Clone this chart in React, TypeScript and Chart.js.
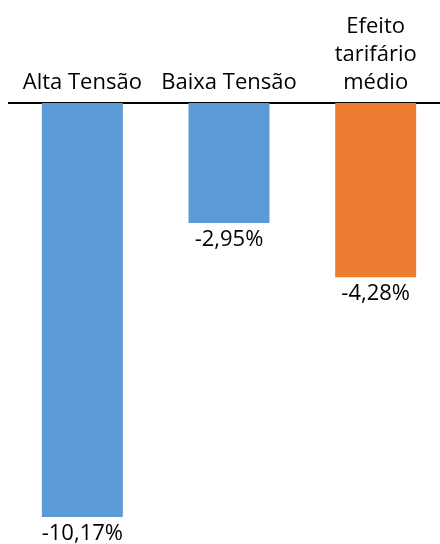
import React, { useEffect, useRef } from "react";
import { Chart, registerables } from "chart.js";

Chart.register(...registerables);

const categories: (string | string[])[] = ["Alta Tensão", "Baixa Tensão", ["Efeito", "tarifário", "médio"]];
const values: number[] = [-10.17, -2.95, -4.28];
const barColors: string[] = ["#5B9BD5", "#5B9BD5", "#ED7D31"];

const FONT = "'Open Sans', 'Liberation Sans', sans-serif";

const valueLabels = {
  id: "valueLabels",
  afterDatasetsDraw(chart: any) {
    const ctx = chart.ctx;
    const meta = chart.getDatasetMeta(0);
    ctx.save();
    ctx.font = `22px ${FONT}`;
    ctx.fillStyle = "#000";
    ctx.textAlign = "center";
    ctx.textBaseline = "top";
    meta.data.forEach((bar: any, i: number) => {
      const v = values[i];
      const txt = v.toFixed(2).replace(".", ",") + "%";
      ctx.fillText(txt, bar.x, bar.y + 6);
    });
    ctx.restore();
  },
};

export default function App() {
  const ref = useRef<HTMLCanvasElement>(null);
  useEffect(() => {
    if (!ref.current) return;
    const chart = new Chart(ref.current, {
      type: "bar",
      data: {
        labels: categories,
        datasets: [
          {
            data: values,
            backgroundColor: barColors,
            borderWidth: 0,
            barPercentage: 0.552,
            categoryPercentage: 1,
          },
        ],
      },
      options: {
        responsive: false,
        animation: false,
        layout: { padding: { left: 9, right: 0, top: 0, bottom: 9.6 } },
        plugins: { legend: { display: false }, tooltip: { enabled: false } },
        scales: {
          x: {
            position: "top",
            grid: { display: false, drawTicks: false },
            border: { display: true, color: "#000", width: 2 },
            ticks: {
              color: "#000",
              padding: 6,
              maxRotation: 0,
              font: { family: FONT, size: 22, lineHeight: 1.28 },
            },
            afterFit: (s: any) => {
              s.height = 103;
            },
          },
          y: { display: false, min: -10.6, max: 0 },
        },
      },
      plugins: [valueLabels],
    });
    return () => chart.destroy();
  }, []);
  return (
    <div style={{ position: "absolute", left: 0, top: 0, width: 440, height: 544, overflow: "hidden", background: "#fff" }}>
      <canvas ref={ref} width={449} height={544} style={{ display: "block" }} />
    </div>
  );
}
